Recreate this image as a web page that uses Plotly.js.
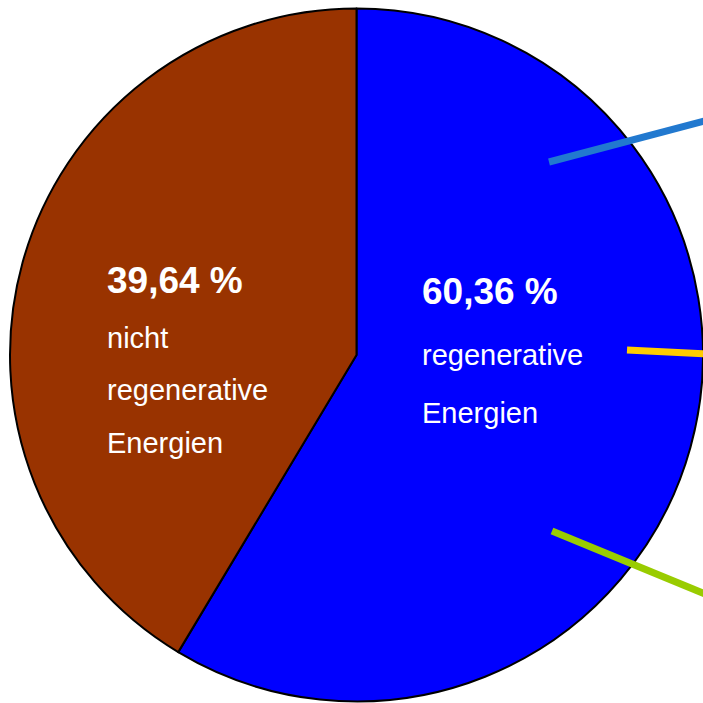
<!DOCTYPE html>
<html>
<head>
<meta charset="utf-8">
<script src="https://cdn.plot.ly/plotly-3.0.1.min.js"></script>
<style>html,body{margin:0;padding:0;background:#fff;}#chart{width:703px;height:703px;}</style>
</head>
<body>
<div id="chart"></div>
<script>
// Slice shares as drawn in the picture (angle-measured) and their printed labels
var categories = ['regenerative Energien', 'nicht regenerative Energien'];
var sliceValues = [58.6, 41.4];
var percentLabels = ['60,36 %', '39,64 %'];
var nameLines = [['regenerative', 'Energien'], ['nicht', 'regenerative', 'Energien']];
var sliceColors = ['#0000ff', '#993300'];

var W = 703, H = 703;
function px(x) { return x / W; }
function py(y) { return 1 - y / H; }

var FONT = '"Liberation Sans", Arial, sans-serif';

var trace = {
  type: 'pie',
  labels: categories,
  values: sliceValues,
  sort: false,
  direction: 'clockwise',
  rotation: 0,
  textinfo: 'none',
  hoverinfo: 'none',
  showlegend: false,
  marker: { colors: sliceColors, line: { color: '#000000', width: 2 } },
  domain: { x: [px(10), 1], y: [py(702), py(8)] }
};

var annotations = [];
var blocks = [
  { x: 420, py: 292, ny: 355, sp: 58 },
  { x: 105, py: 280, ny: 338, sp: 52.5 }
];
blocks.forEach(function (b, i) {
  annotations.push({
    xref: 'paper', yref: 'paper', x: px(b.x), y: py(b.py),
    xanchor: 'left', yanchor: 'middle', showarrow: false,
    text: '<b>' + percentLabels[i] + '</b>',
    font: { family: FONT, size: 37, color: '#ffffff' }
  });
  nameLines[i].forEach(function (t, j) {
    annotations.push({
      xref: 'paper', yref: 'paper', x: px(b.x), y: py(b.ny + j * b.sp),
      xanchor: 'left', yanchor: 'middle', showarrow: false,
      text: t,
      font: { family: FONT, size: 29, color: '#ffffff' }
    });
  });
});

function seg(x0, y0, x1, y1, c) {
  return { type: 'line', xref: 'paper', yref: 'paper', layer: 'above',
    x0: px(x0), y0: py(y0), x1: px(x1), y1: py(y1),
    line: { color: c, width: 7 } };
}
var shapes = [
  seg(549, 162, 710, 119.5, '#2279cf'),
  seg(627, 350, 710, 354, '#ffcc00'),
  seg(552, 531, 710, 596, '#99cc00')
];

var layout = {
  width: W, height: H,
  margin: { l: 0, r: 0, t: 0, b: 0 },
  paper_bgcolor: '#ffffff',
  showlegend: false,
  annotations: annotations,
  shapes: shapes
};

Plotly.newPlot('chart', [trace], layout, { displayModeBar: false, staticPlot: true });
</script>
</body>
</html>
